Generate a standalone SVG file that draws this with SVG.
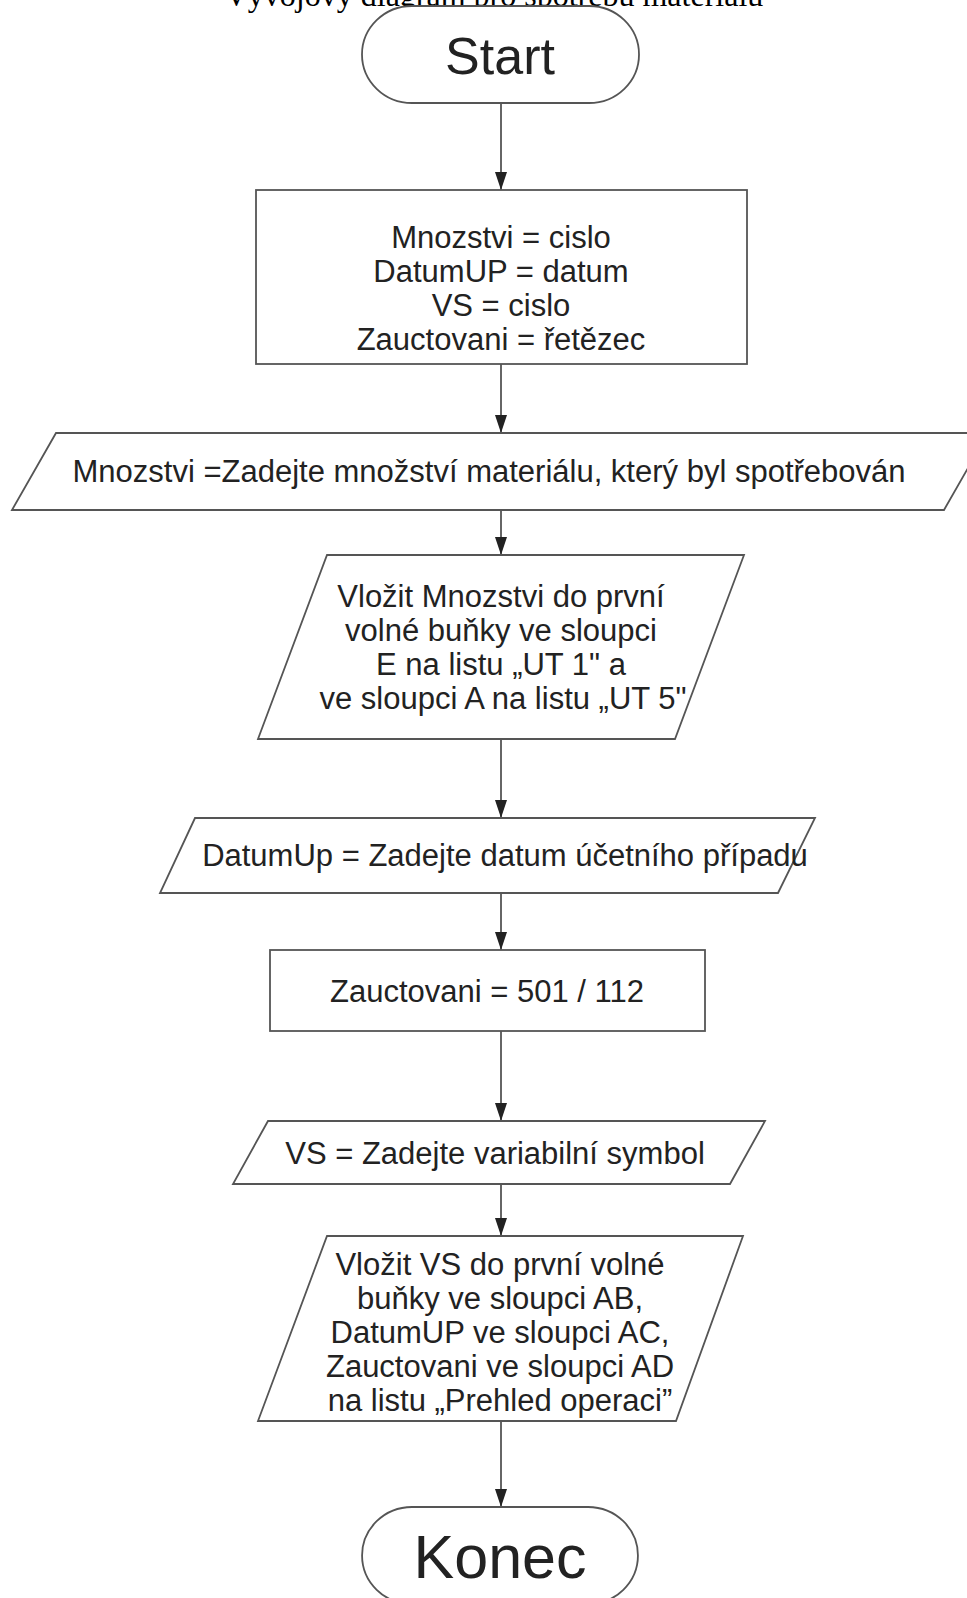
<svg xmlns="http://www.w3.org/2000/svg" width="967" height="1598" viewBox="0 0 967 1598">
<style>
.shape{fill:#fff;stroke:#555;stroke-width:1.8}
.t{font-family:"Liberation Sans",Arial,sans-serif;font-size:31px;fill:#222;text-anchor:middle}
.big{font-family:"Liberation Sans",Arial,sans-serif;fill:#222;text-anchor:middle}
.title{font-family:"Liberation Serif","Times New Roman",serif;font-size:32px;fill:#000;text-anchor:middle}
.conn{stroke:#333;stroke-width:1.5;fill:none;marker-end:url(#arr)}
</style>
<defs>
<marker id="arr" markerUnits="userSpaceOnUse" markerWidth="18" markerHeight="12" refX="18" refY="6" viewBox="0 0 18 12" orient="auto">
<path d="M0,0 L18,6 L0,12 z" fill="#222"/>
</marker>
</defs>
<rect width="967" height="1598" fill="#fff"/>
<text class="title" x="494" y="6">Vývojový diagram pro spotřebu materiálu</text>
<g id="connectors">
<line class="conn" x1="501" y1="103" x2="501" y2="190"/>
<line class="conn" x1="501" y1="364" x2="501" y2="433"/>
<line class="conn" x1="501" y1="510" x2="501" y2="555"/>
<line class="conn" x1="501" y1="739" x2="501" y2="818"/>
<line class="conn" x1="501" y1="893" x2="501" y2="950"/>
<line class="conn" x1="501" y1="1031" x2="501" y2="1121"/>
<line class="conn" x1="501" y1="1184" x2="501" y2="1236"/>
<line class="conn" x1="501" y1="1421" x2="501" y2="1507"/>
</g>
<g id="start">
<path class="shape" d="M412,6 H589 A50,48.5 0 0 1 589,103 H412 A50,48.5 0 0 1 412,6 Z"/>
<text class="big" x="500" y="74" font-size="52">Start</text>
</g>
<g id="declare">
<rect class="shape" x="256" y="190" width="491" height="174"/>
<text class="t" x="501" y="248">Mnozstvi = cislo</text>
<text class="t" x="501" y="282">DatumUP = datum</text>
<text class="t" x="501" y="316">VS = cislo</text>
<text class="t" x="501" y="350">Zauctovani = řetězec</text>
</g>
<g id="input-mnozstvi">
<polygon class="shape" points="56,433 988,433 944,510 12,510"/>
<text class="t" x="489" y="482">Mnozstvi =Zadejte množství materiálu, který byl spotřebován</text>
</g>
<g id="store-mnozstvi">
<polygon class="shape" points="327,555 744,555 675,739 258,739"/>
<text class="t" x="501" y="607">Vložit Mnozstvi do první</text>
<text class="t" x="501" y="641">volné buňky ve sloupci</text>
<text class="t" x="501" y="675">E na listu „UT 1" a</text>
<text class="t" x="503" y="709">ve sloupci A na listu „UT 5"</text>
</g>
<g id="input-datum">
<polygon class="shape" points="195,818 815,818 778,893 160,893"/>
<text class="t" x="505" y="866" font-size="29.5">DatumUp = Zadejte datum účetního případu</text>
</g>
<g id="zauctovani">
<rect class="shape" x="270" y="950" width="435" height="81"/>
<text class="t" x="487" y="1002">Zauctovani = 501 / 112</text>
</g>
<g id="input-vs">
<polygon class="shape" points="268,1121 765,1121 730,1184 233,1184"/>
<text class="t" x="495" y="1164">VS = Zadejte variabilní symbol</text>
</g>
<g id="store-vs">
<polygon class="shape" points="327,1236 743,1236 676,1421 258,1421"/>
<text class="t" x="500" y="1275">Vložit VS do první volné</text>
<text class="t" x="500" y="1309">buňky ve sloupci AB,</text>
<text class="t" x="500" y="1343">DatumUP ve sloupci AC,</text>
<text class="t" x="500" y="1377">Zauctovani ve sloupci AD</text>
<text class="t" x="500" y="1411">na listu „Prehled operaci”</text>
</g>
<g id="konec">
<path class="shape" d="M412,1507 H588 A50,48.5 0 0 1 588,1604 H412 A50,48.5 0 0 1 412,1507 Z"/>
<text class="big" x="500" y="1578" font-size="61">Konec</text>
</g>
</svg>
